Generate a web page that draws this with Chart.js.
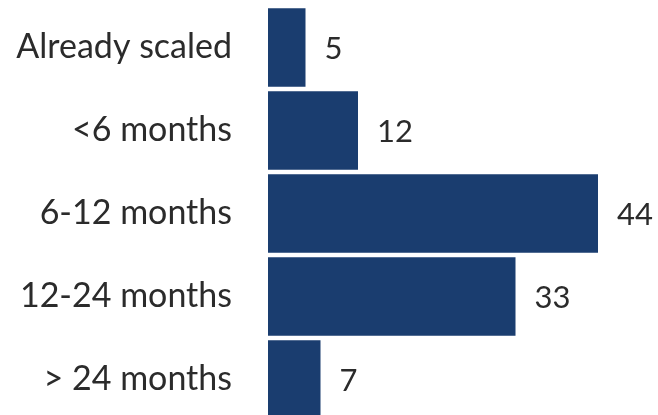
<!DOCTYPE html>
<html lang="en">
    <head>
        <meta charset="utf-8">
        <title>Time to scale</title>
        <script src="https://cdn.jsdelivr.net/npm/chart.js"></script>
        <style>
            html, body { margin: 0; padding: 0; background: #ffffff; overflow: hidden; }
            .chart-container { position: relative; width: 658px; height: 421px; }
        </style>
    </head>
    <body>
        <div class="chart-container">
            <canvas id="graph"></canvas>
        </div>
        <script>
            const categories = ["Already scaled", "<6 months", "6-12 months", "12-24 months", "> 24 months"];
            const values = [5, 12, 44, 33, 7];

            const barColor = '#1a3d6f';
            const textColor = '#2b2b2b';
            const fontFamily = 'Lato, "Open Sans", sans-serif';

            // write each bar's number just past its end
            const valueLabels = {
                id: 'valueLabels',
                afterDatasetsDraw(chart) {
                    const ctx = chart.ctx;
                    const meta = chart.getDatasetMeta(0);
                    ctx.save();
                    ctx.fillStyle = textColor;
                    ctx.font = '31px ' + fontFamily;
                    ctx.textAlign = 'left';
                    ctx.textBaseline = 'middle';
                    meta.data.forEach(function(bar, i) {
                        ctx.fillText(String(values[i]), bar.x + 19, bar.y + 1);
                    });
                    ctx.restore();
                }
            };

            const ctx = document.getElementById('graph').getContext('2d');
            const graph = new Chart(ctx, {
                type: 'bar',
                data: {
                    labels: categories,
                    datasets: [{
                        data: values,
                        backgroundColor: barColor,
                        borderWidth: 0,
                        barPercentage: 1,
                        categoryPercentage: 0.945
                    }]
                },
                options: {
                    indexAxis: 'y',
                    responsive: true,
                    maintainAspectRatio: false,
                    animation: false,
                    layout: {
                        padding: { top: 6, right: 0, bottom: 0, left: 0 }
                    },
                    scales: {
                        x: {
                            display: false,
                            min: 0,
                            max: 52
                        },
                        y: {
                            grid: { display: false, drawTicks: false },
                            border: { display: false },
                            ticks: {
                                color: textColor,
                                padding: 36,
                                font: { family: fontFamily, size: 34 }
                            },
                            afterFit: function(scale) {
                                // fixed axis width, and no extra room above/below the labels
                                scale.width = 268;
                                scale.paddingTop = 0;
                                scale.paddingBottom = 0;
                            }
                        }
                    },
                    plugins: {
                        legend: { display: false },
                        tooltip: { enabled: false }
                    }
                },
                plugins: [valueLabels]
            });
        </script>
    </body>
</html>
